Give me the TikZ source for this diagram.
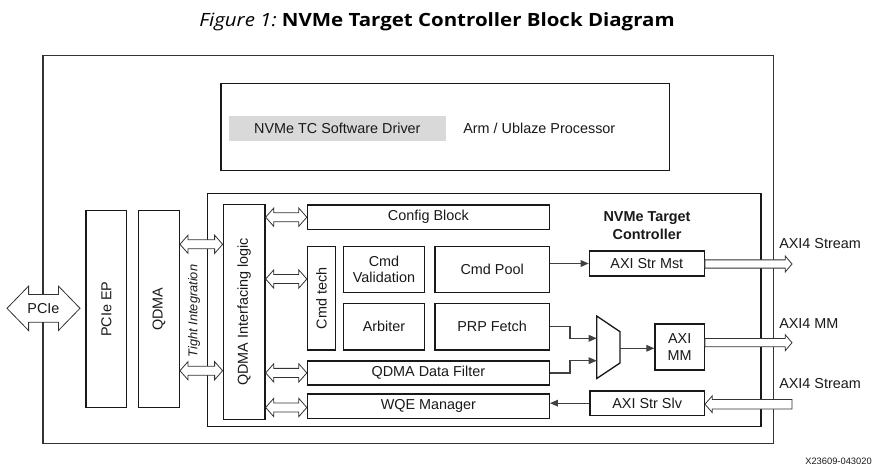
\documentclass[tikz,border=0pt]{standalone}
\usepackage{fontspec}
\setmainfont{Liberation Sans}
\newfontfamily\titlefont[FakeStretch=1.12]{Open Sans}
\usetikzlibrary{fit,calc,arrows.meta}

% hollow double-headed horizontal arrow: #1 left end, #2 right end, #3 shaft half, #4 head half, #5 head length
\newcommand\hdbl[5]{%
  \path[hollow] let \p1=#1, \p2=#2 in
    (\x1,\y1) -- (\x1+#5,\y1+#4) -- (\x1+#5,\y1+#3) -- (\x2-#5,\y1+#3) -- (\x2-#5,\y1+#4)
    -- (\x2,\y1) -- (\x2-#5,\y1-#4) -- (\x2-#5,\y1-#3) -- (\x1+#5,\y1-#3) -- (\x1+#5,\y1-#4) -- cycle;}
% hollow single-headed horizontal arrow: #1 tail, #2 tip, #3 shaft half, #4 head half, #5 head length, #6 direction (1 right, -1 left)
\newcommand\hsgl[6]{%
  \path[hollow] let \p1=#1, \p2=#2 in
    (\x1,\y1+#3) -- ({\x2-(#6)*#5},\y1+#3) -- ({\x2-(#6)*#5},\y1+#4) -- (\x2,\y1)
    -- ({\x2-(#6)*#5},\y1-#4) -- ({\x2-(#6)*#5},\y1-#3) -- (\x1,\y1-#3) -- cycle;}

\begin{document}
\begin{tikzpicture}[x=0.75pt,y=-0.75pt,
  box/.style={draw=black!90, line width=1pt, inner sep=0pt},
  lbl/.style={font=\fontsize{10.8}{12.5}\selectfont, inner sep=0pt, text=black!90, align=center},
  conn/.style={draw=black!75, line width=0.8pt, -{Triangle[length=6pt,width=5pt]}},
  hollow/.style={draw=black!80, line width=0.6pt, fill=white, line join=miter}]
\useasboundingbox (0,0) rectangle (875,468);

% title
\node[inner sep=0pt, font=\titlefont\fontsize{13.7}{16}\selectfont] (title) at (437,22)
  {\itshape Figure 1:\upshape\ \bfseries NVMe Target Controller Block Diagram};

% outer frame
\node[draw=black!80, line width=0.8pt, inner sep=0pt, fit={(43,55.7) (773.5,443.3)}] (outer) {};

% processor block
\node[box, fit={(221,83.3) (669.3,170.7)}] (proc) {};
\node[inner sep=0pt, fill=black!15, fit={(229,116.3) (445.7,140.7)}] (drv) {};
\node[lbl] (drvlbl) at (drv.center) {NVMe TC Software Driver};
\node[lbl, anchor=west] (arm) at (463,128) {Arm / Ublaze Processor};

% left columns
\node[box, fit={(86,210.7) (126.7,407.3)}] (pcieep) {};
\node[lbl, rotate=90] (pcieeplbl) at (pcieep.center) {PCIe EP};
\node[box, fit={(138.7,210.7) (179.3,407.3)}] (qdma) {};
\node[lbl, rotate=90] (qdmalbl) at (qdma.center) {QDMA};

% NVMe target controller
\node[box, fit={(207.3,193.3) (761,426.7)}] (tc) {};
\node[lbl, font=\fontsize{10.8}{13.5}\selectfont\bfseries] (tclbl) at (647,226) {NVMe Target\\Controller};

\node[box, fit={(223.3,204.3) (265,419.3)}] (qil) {};
\node[lbl, rotate=90] (qillbl) at (qil.center) {QDMA Interfacing logic};

\node[box, fit={(307.5,205) (549.3,229.3)}] (cfg) {};
\node[lbl] (cfglbl) at (cfg.center) {Config Block};
\node[box, fit={(307.5,246.7) (335.3,350)}] (cmdt) {};
\node[lbl, rotate=90] (cmdtlbl) at (cmdt.center) {Cmd tech};
\node[box, fit={(343.7,246.7) (424.3,292.3)}] (cval) {};
\node[lbl] (cvallbl) at (cval.center) {Cmd\\Validation};
\node[box, fit={(435,246.7) (549.3,292.3)}] (cpool) {};
\node[lbl] (cpoollbl) at (cpool.center) {Cmd Pool};
\node[box, fit={(343.7,303.3) (424.3,350)}] (arb) {};
\node[lbl] (arblbl) at (arb.center) {Arbiter};
\node[box, fit={(435,303.3) (549.3,350)}] (prp) {};
\node[lbl] (prplbl) at (prp.center) {PRP Fetch};
\node[box, fit={(307.5,361) (549.3,385)}] (qdf) {};
\node[lbl] (qdflbl) at (qdf.center) {QDMA Data Filter};
\node[box, fit={(307.5,394) (549.3,418.7)}] (wqe) {};
\node[lbl] (wqelbl) at (wqe.center) {WQE Manager};

\node[box, fit={(589.3,251) (704.3,276)}] (mst) {};
\node[lbl] (mstlbl) at (mst.center) {AXI Str Mst};
\node[box, fit={(655,324) (704.3,370)}] (mm) {};
\node[lbl] (mmlbl) at (mm.center) {AXI\\MM};
\node[box, fit={(590,391) (704.3,415.3)}] (slv) {};
\node[lbl] (slvlbl) at (slv.center) {AXI Str Slv};

% multiplexer
\draw[draw=black!90, line width=1pt, line join=miter] (596.7,316) -- (620,331.7) -- (620,363) -- (596.7,378.5) -- cycle;
\coordinate (muxin1) at (596.7,338.3);
\coordinate (muxin2) at (596.7,360.7);
\coordinate (muxout) at (620,348.3);

% thin connectors
\draw[conn] (cpool.east |- mst.west) -- (mst.west);
\draw[conn] (prp.east) -- ++(20,0) |- (muxin1);
\draw[conn] (qdf.east) -- ++(20,0) |- (muxin2);
\draw[conn] (muxout) -- (mm.west |- muxout);
\draw[conn] (slv.west) -- (wqe.east |- slv.west);

% y levels for hollow arrows
\coordinate (ti1) at (0,244.3);
\coordinate (ti2) at (0,370.7);
\coordinate (il1) at (0,217.2);
\coordinate (il2) at (0,279);
\coordinate (il3) at (0,372.9);
\coordinate (il4) at (0,407.5);

% tight integration arrows
\hdbl{(qdma.east |- ti1)}{(qil.west |- ti1)}{3.4pt}{6.8pt}{6pt}
\hdbl{(qdma.east |- ti2)}{(qil.west |- ti2)}{3.4pt}{6.8pt}{6pt}
\node[lbl, rotate=90, font=\fontsize{9.6}{11}\selectfont\itshape] (tilbl) at (194,311) {Tight Integration};

% interfacing logic arrows
\hdbl{(qil.east |- il1)}{(cfg.west |- il1)}{3.4pt}{6.8pt}{6pt}
\hdbl{(qil.east |- il2)}{(cmdt.west |- il2)}{3.4pt}{6.8pt}{6pt}
\hdbl{(qil.east |- il3)}{(qdf.west |- il3)}{3.4pt}{6.8pt}{6pt}
\hdbl{(qil.east |- il4)}{(wqe.west |- il4)}{3.4pt}{6.8pt}{6pt}

% PCIe arrow
\coordinate (pcl) at (7,308.3);
\coordinate (pcr) at (80,308.3);
\hdbl{(pcl)}{(pcr)}{10.4pt}{16.7pt}{16.2pt}
\node[lbl] (pcielbl) at (43.5,308.5) {PCIe};

% AXI external arrows
\coordinate (ax1) at (792,264);
\coordinate (ax2) at (792,342.7);
\coordinate (ax3) at (792,404.2);
\hsgl{(mst.east |- ax1)}{(ax1)}{3.1pt}{5.9pt}{5pt}{1}
\hsgl{(mm.east |- ax2)}{(ax2)}{3.1pt}{5.9pt}{5pt}{1}
\hsgl{(ax3)}{(slv.east |- ax3)}{3.6pt}{6.3pt}{5.5pt}{-1}
\node[lbl, anchor=west] (axl1) at (779,243.3) {AXI4 Stream};
\node[lbl, anchor=west] (axl2) at (779,323.3) {AXI4 MM};
\node[lbl, anchor=west] (axl3) at (779,383.3) {AXI4 Stream};

% figure id
\node[lbl, font=\fontsize{7}{8}\selectfont] (fid) at (838.5,461.5) {X23609-043020};
\end{tikzpicture}
\end{document}
